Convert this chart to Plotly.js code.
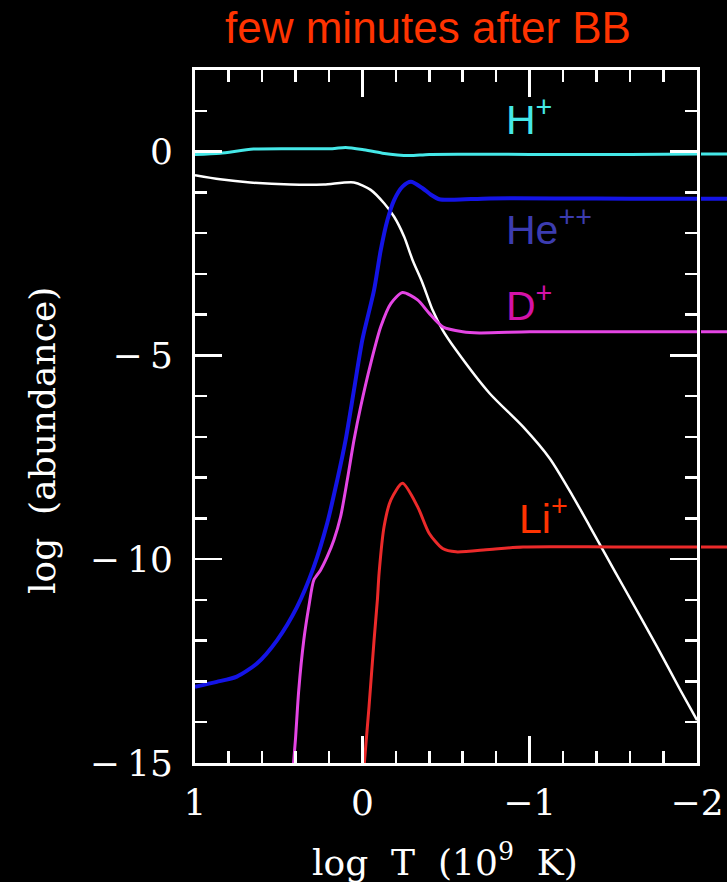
<!DOCTYPE html>
<html>
<head>
<meta charset="utf-8">
<script src="https://cdn.plot.ly/plotly-3.0.1.min.js"></script>
<style>
html,body{margin:0;padding:0;background:#000;}
#chart{width:727px;height:882px;}
</style>
</head>
<body>
<div id="chart"></div>
<script>
// ---- data (log T in 10^9 K, log abundance) ----
const hX = [1.0, 0.85, 0.65, 0.40, 0.18, 0.10, 0.0, -0.12, -0.28, -0.40, -1.0, -1.6, -2.0];
const hY = [-0.07, -0.04, 0.06, 0.07, 0.07, 0.10, 0.05, -0.04, -0.10, -0.07, -0.07, -0.07, -0.06];

const eX = [1.0, 0.85, 0.67, 0.43, 0.23, 0.05, -0.05, -0.13, -0.19, -0.25, -0.30, -0.36, -0.42, -0.48, -0.56, -0.76, -0.96, -1.12, -1.26, -1.36, -1.46, -1.56, -1.76, -1.90, -2.0];
const eY = [-0.58, -0.68, -0.76, -0.81, -0.81, -0.76, -0.94, -1.27, -1.60, -2.09, -2.66, -3.23, -3.89, -4.38, -4.87, -5.93, -6.75, -7.53, -8.47, -9.20, -9.94, -10.67, -12.14, -13.21, -13.95];

const heX = [1.0, 0.87, 0.75, 0.63, 0.51, 0.39, 0.29, 0.21, 0.15, 0.10, 0.05, 0.0, -0.07, -0.11, -0.15, -0.19, -0.24, -0.29, -0.36, -0.41, -0.46, -0.55, -0.76, -1.2, -1.6, -2.0];
const heY = [-13.13, -13.01, -12.88, -12.56, -11.99, -11.17, -10.19, -9.12, -8.06, -7.08, -5.85, -4.62, -3.40, -2.42, -1.68, -1.19, -0.86, -0.74, -0.90, -1.06, -1.17, -1.18, -1.15, -1.15, -1.16, -1.16];

const dX = [0.415, 0.40, 0.38, 0.35, 0.32, 0.29, 0.25, 0.21, 0.17, 0.13, 0.09, 0.05, 0.01, -0.05, -0.11, -0.17, -0.24, -0.33, -0.40, -0.48, -0.60, -0.70, -1.0, -1.5, -2.0];
const dY = [-15.2, -14.44, -13.21, -11.99, -11.17, -10.51, -10.27, -9.94, -9.53, -8.96, -8.06, -7.08, -6.26, -5.20, -4.30, -3.73, -3.46, -3.64, -3.97, -4.30, -4.42, -4.45, -4.42, -4.42, -4.42];

const liX = [-0.01, -0.04, -0.07, -0.09, -0.10, -0.13, -0.17, -0.24, -0.33, -0.40, -0.48, -0.56, -0.76, -0.96, -1.5, -2.0];
const liY = [-15.1, -13.62, -11.99, -11.0, -10.35, -9.20, -8.55, -8.14, -8.71, -9.37, -9.74, -9.82, -9.76, -9.70, -9.70, -9.70];

const xTickVals = [1, 0, -1, -2];
const xTickText = ["1", "0", "\u22121", "\u22122"];
const yTickVals = [0, -5, -10, -15];
const yTickText = ["0", "\u2212\u20095", "\u2212\u200910", "\u2212\u200915"];

const labels = ["H<sup>+</sup>", "He<sup>++</sup>", "D<sup>+</sup>", "Li<sup>+</sup>"];

// ---- styles ----
const cols = {h:"#45e8e8", e:"#ffffff", he:"#1414e6", d:"#e445e4", li:"#ec2a2a"};
const labelCols = ["#45e8e8", "#3c3cb0", "#d412a8", "#ff3300"];

function line(x, y, color, width, xa) {
  return {x:x, y:y, type:"scatter", mode:"lines", xaxis:xa||"x", yaxis:"y",
    line:{color:color, width:width, shape:"spline", smoothing:0.7},
    hoverinfo:"skip", showlegend:false};
}
function stub(x, y, color, width) {
  // short continuation of the final level outside the frame
  const last = y[y.length-1];
  return line([x[x.length-1], -2.3], [last, last], color, width, "x2");
}

const traces = [
  line(eX, eY, cols.e, 2.5),
  line(hX, hY, cols.h, 3),
  line(heX, heY, cols.he, 4),
  line(dX, dY, cols.d, 3),
  line(liX, liY, cols.li, 3),
  stub(hX, hY, cols.h, 3),
  stub(heX, heY, cols.he, 4),
  stub(dX, dY, cols.d, 3),
  stub(liX, liY, cols.li, 3)
];

const tickFont = {family:"DejaVu Serif", size:36, color:"#ffffff"};
const labelFont = {family:"Liberation Sans, Arial, sans-serif", size:41};

const labelPos = [[-0.847, 0.84], [-0.847, -1.85], [-0.847, -3.72], [-0.925, -8.94]];
const annotations = labels.map((t, i) => ({
  text:t, x:labelPos[i][0], y:labelPos[i][1], xref:"x", yref:"y",
  xanchor:"left", yanchor:"middle", showarrow:false,
  font:Object.assign({}, labelFont, {color:labelCols[i]})
}));
annotations.push({
  text:"log\u00a0\u00a0T\u00a0\u00a0(10<sup>9</sup>\u00a0\u00a0K)", xref:"paper", yref:"paper",
  x:(445-195)/532, y:-(860-763)/693, xanchor:"center", yanchor:"middle",
  showarrow:false, font:tickFont
});
annotations.push({
  text:"log\u00a0\u00a0(abundance)", xref:"paper", yref:"paper",
  x:-(195-42)/532, y:(763-441)/693, xanchor:"center", yanchor:"middle",
  textangle:-90, showarrow:false, font:tickFont
});

const axisCommon = {
  showgrid:false, zeroline:false, showline:true, linecolor:"#ffffff", linewidth:3,
  mirror:"ticks", ticks:"inside", ticklen:27, tickwidth:2.5, tickcolor:"#ffffff",
  tickmode:"array", tickfont:tickFont
};

const layout = {
  width:727, height:882,
  paper_bgcolor:"#000000", plot_bgcolor:"#000000",
  margin:{l:195, r:0, t:70, b:119},
  title:{text:"few minutes after BB", x:428/727, xanchor:"center", y:1-28/882, yanchor:"middle",
    font:{family:"Liberation Sans, Arial, sans-serif", size:44, color:"#ff3300"}},
  xaxis:Object.assign({}, axisCommon, {
    domain:[0, 502/532], range:[1, -2], tickvals:xTickVals, ticktext:xTickText,
    ticklabelstandoff:6,
    minor:{tick0:0, dtick:0.2, ticks:"inside", ticklen:12, tickwidth:2.5, tickcolor:"#ffffff", showgrid:false}
  }),
  xaxis2:{domain:[506/532, 1], range:[-2.036, -2.18], anchor:"y", visible:false, showgrid:false, zeroline:false},
  yaxis:Object.assign({}, axisCommon, {
    range:[-15, 2], tickvals:yTickVals, ticktext:yTickText, ticklabelstandoff:12,
    minor:{tick0:0, dtick:1, ticks:"inside", ticklen:12, tickwidth:2.5, tickcolor:"#ffffff", showgrid:false}
  }),
  annotations:annotations,
  showlegend:false
};

Plotly.newPlot("chart", traces, layout, {displayModeBar:false, staticPlot:true});
</script>
</body>
</html>
